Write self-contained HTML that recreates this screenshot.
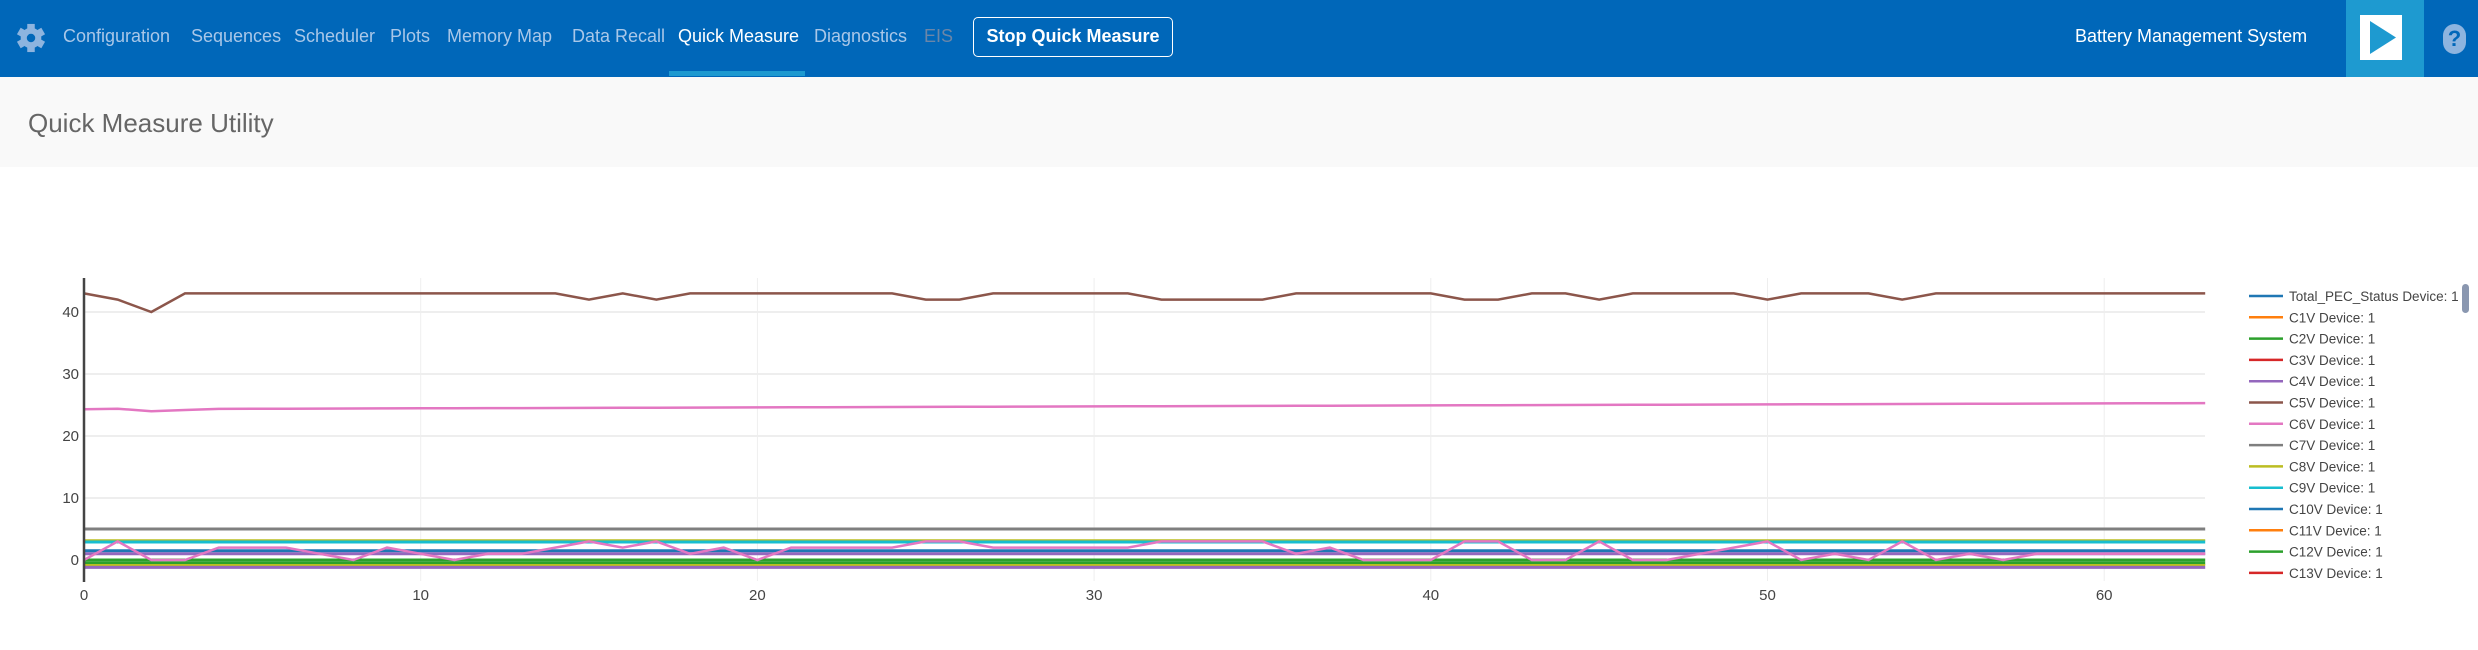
<!DOCTYPE html>
<html><head><meta charset="utf-8"><style>
*{margin:0;padding:0;box-sizing:border-box}
body{width:2478px;height:650px;background:#fff;font-family:"Liberation Sans",sans-serif;position:relative;overflow:hidden}
.nav{position:absolute;left:0;top:0;width:2478px;height:77px;background:#0067b9}
.nav span{position:absolute;top:26px;font-size:18px;color:#a9c7e8;white-space:nowrap}
.hdr{position:absolute;left:0;top:77px;width:2478px;height:90px;background:#f9f9f9}
</style></head><body>
<div class="nav">
<svg style="position:absolute;left:16px;top:22px" width="30" height="32" viewBox="-16 -16 32 32"><g fill="#8db4df"><circle r="11"/><g id="t"><rect x="-4" y="-15" width="8" height="30"/></g><use href="#t" transform="rotate(60)"/><use href="#t" transform="rotate(120)"/></g><circle r="4.5" fill="#0067b9"/></svg>
<span style="left:63px">Configuration</span>
<span style="left:191px">Sequences</span>
<span style="left:294px">Scheduler</span>
<span style="left:390px">Plots</span>
<span style="left:447px">Memory Map</span>
<span style="left:572px">Data Recall</span>
<span style="left:678px;color:#fff">Quick Measure</span>
<span style="left:814px">Diagnostics</span>
<span style="left:924px;color:#6b86a8">EIS</span>
<div style="position:absolute;left:669px;top:71px;width:136px;height:5px;background:#1e9ad0"></div>
<div style="position:absolute;left:973px;top:17px;width:200px;height:40px;border:1.5px solid #fff;border-radius:5px;color:#fff;font-weight:bold;font-size:18px;text-align:center;line-height:37px">Stop Quick Measure</div>
<span style="left:2075px;color:#fff">Battery Management System</span>
<div style="position:absolute;left:2346px;top:0;width:78px;height:77px;background:#1e9ad0"></div>
<svg style="position:absolute;left:2360px;top:15px" width="42" height="45"><rect width="42" height="45" fill="#fff"/><polygon points="10,6 36,22.5 10,39" fill="#1e9ad0"/></svg>
<div style="position:absolute;left:2443px;top:24px;width:23px;height:30px;border-radius:12px;background:#8db4df;color:#0067b9;font-weight:bold;font-size:22px;text-align:center;line-height:30px">?</div>
</div>
<div class="hdr"><div style="position:absolute;left:28px;top:31px;font-size:26px;color:#666">Quick Measure Utility</div></div>
<svg id="ch" style="position:absolute;left:0;top:0" width="2478" height="650"></svg>
<script>
const X=x=>84+x*33.67, Y=v=>560-v*6.2;
let s='';
for(let v=10;v<=40;v+=10) s+=`<line x1="84" x2="2205" y1="${Y(v)}" y2="${Y(v)}" stroke="#eee" stroke-width="2"/>`;
for(let x=10;x<=60;x+=10) s+=`<line x1="${X(x)}" x2="${X(x)}" y1="278" y2="581" stroke="#eee" stroke-width="1"/>`;
function pl(vals,c,w){let p=vals.map((v,i)=>X(i).toFixed(1)+','+Y(v).toFixed(1)).join(' ');s+=`<polyline points="${p}" fill="none" stroke="${c}" stroke-width="${w||2.5}"/>`;}
function flat(v,c,w){pl(Array(64).fill(v),c,w);}
let b=Array(64).fill(43);
b[1]=42;b[2]=40;[15,17,25,26,32,33,34,35,41,42,45,50,54].forEach(i=>b[i]=42);
pl(b,'#8c564b');
let p=[];for(let i=0;i<64;i++)p.push(24.3+i*0.016);p[1]=24.4;p[2]=24;p[3]=24.2;pl(p,'#e377c2');
flat(5,'#7f7f7f',3);
flat(3.2,'#bcbd22',2);
flat(2.9,'#17becf',3);
flat(1.5,'#1f77b4',3);
flat(1.0,'#9467bd',3);
flat(0,'#2ca02c',3);flat(-0.5,'#2ca02c',3);flat(-0.8,'#bcbd22',2);flat(-1.2,'#9467bd',3);
let z=[0,3,0,0,2,2,2,1,0,2,1,0,1,1,2,3,2,3,1,2,0,2,2,2,2,3,3,2,2,2,2,2,3,3,3,3,1,2,0,0,0,3,3,0,0,3,0,0,1,2,3,0,1,0,3,0,1,0,1,1,1,1,1,1];
pl(z,'#e377c2');
s+=`<line x1="84" x2="84" y1="278" y2="582" stroke="#444" stroke-width="2.5"/>`;
[0,10,20,30,40].forEach(v=>s+=`<text x="79" y="${Y(v)+5}" text-anchor="end" font-size="15" fill="#444" font-family="Liberation Sans">${v}</text>`);
[0,10,20,30,40,50,60].forEach(x=>s+=`<text x="${X(x)}" y="600" text-anchor="middle" font-size="15" fill="#444" font-family="Liberation Sans">${x}</text>`);
const L=[['Total_PEC_Status Device: 1','#1f77b4'],['C1V Device: 1','#ff7f0e'],['C2V Device: 1','#2ca02c'],['C3V Device: 1','#d62728'],['C4V Device: 1','#9467bd'],['C5V Device: 1','#8c564b'],['C6V Device: 1','#e377c2'],['C7V Device: 1','#7f7f7f'],['C8V Device: 1','#bcbd22'],['C9V Device: 1','#17becf'],['C10V Device: 1','#1f77b4'],['C11V Device: 1','#ff7f0e'],['C12V Device: 1','#2ca02c'],['C13V Device: 1','#d62728']];
L.forEach((l,i)=>{let y=296+i*21.3;s+=`<line x1="2249" x2="2283" y1="${y}" y2="${y}" stroke="${l[1]}" stroke-width="2.5"/><text x="2289" y="${y+5}" font-size="13.5" fill="#444" font-family="Liberation Sans">${l[0]}</text>`;});
s+=`<rect x="2462" y="284" width="7" height="29" rx="3.5" fill="#8a97b0"/>`;
document.getElementById('ch').innerHTML=s;
</script>
</body></html>
